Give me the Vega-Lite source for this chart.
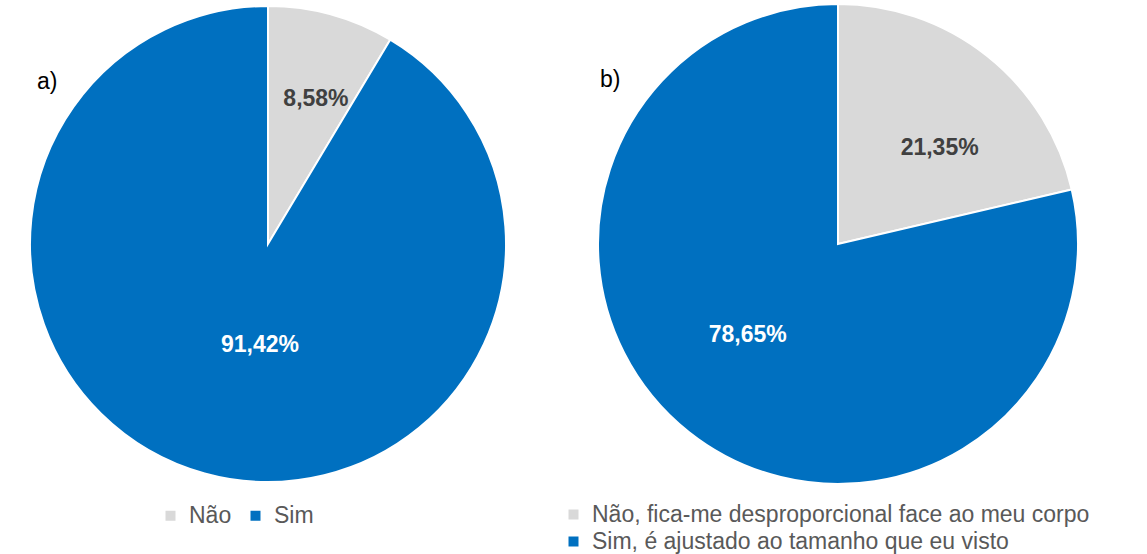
{
  "$schema": "https://vega.github.io/schema/vega-lite/v6.json",
  "padding": 0,
  "background": "white",
  "bounds": "flush",
  "spacing": 34,
  "config": {
    "view": {"stroke": null},
    "font": "Liberation Sans",
    "legend": {
      "orient": "none",
      "symbolType": "square",
      "symbolSize": 100,
      "symbolStrokeWidth": 0,
      "labelFont": "Liberation Sans",
      "labelFontSize": 23,
      "labelColor": "#595959",
      "labelOffset": 7,
      "labelLimit": 700,
      "padding": 0,
      "title": null
    },
    "title": {"font": "Liberation Sans", "fontSize": 23, "fontWeight": "normal", "color": "#000000", "anchor": "start", "frame": "group"}
  },
  "data": {
    "values": [
      {"panel": "a", "cat": "Não", "value": 8.58, "label": "8,58%"},
      {"panel": "a", "cat": "Sim", "value": 91.42, "label": "91,42%"},
      {"panel": "b", "cat": "Não, fica-me desproporcional face ao meu corpo", "value": 21.35, "label": "21,35%"},
      {"panel": "b", "cat": "Sim, é ajustado ao tamanho que eu visto", "value": 78.65, "label": "78,65%"}
    ]
  },
  "hconcat": [
    {
      "width": 536,
      "height": 482,
      "title": {"text": "a)", "offset": -92, "dx": 37},
      "transform": [{"filter": "datum.panel === 'a'"}],
      "encoding": {
        "theta": {"field": "value", "type": "quantitative", "stack": true},
        "order": {"field": "value", "sort": "ascending"}
      },
      "layer": [
        {
          "mark": {"type": "arc", "radius": 238, "stroke": "white", "strokeWidth": 2},
          "encoding": {
            "color": {
              "field": "cat", "type": "nominal",
              "scale": {"domain": ["Não", "Sim"], "range": ["#D9D9D9", "#0070C0"]},
              "legend": {"direction": "horizontal", "legendX": 159, "legendY": 501, "columnPadding": 12}
            }
          }
        },
        {
          "mark": {"type": "text", "radius": 150, "dx": 8, "fontSize": 23, "fontWeight": "bold", "baseline": "middle", "color": "#404040"},
          "encoding": {"text": {"condition": {"test": "datum.cat === 'Não'", "field": "label"}, "value": ""}}
        },
        {
          "mark": {"type": "text", "radius": 105, "dx": 20, "fontSize": 23, "fontWeight": "bold", "baseline": "middle", "color": "#FFFFFF"},
          "encoding": {"text": {"condition": {"test": "datum.cat === 'Sim'", "field": "label"}, "value": ""}}
        }
      ]
    },
    {
      "width": 536,
      "height": 482,
      "title": {"text": "b)", "offset": -92, "dx": 30},
      "transform": [{"filter": "datum.panel === 'b'"}],
      "encoding": {
        "theta": {"field": "value", "type": "quantitative", "stack": true},
        "order": {"field": "value", "sort": "ascending"}
      },
      "layer": [
        {
          "mark": {"type": "arc", "radius": 240, "stroke": "white", "strokeWidth": 2},
          "encoding": {
            "color": {
              "field": "cat", "type": "nominal",
              "scale": {"domain": ["Não, fica-me desproporcional face ao meu corpo", "Sim, é ajustado ao tamanho que eu visto"], "range": ["#D9D9D9", "#0070C0"]},
              "legend": {"direction": "vertical", "legendX": -8, "legendY": 500, "rowPadding": 3}
            }
          }
        },
        {
          "mark": {"type": "text", "radius": 141, "dx": 14, "dy": 14, "fontSize": 23, "fontWeight": "bold", "baseline": "middle", "color": "#404040"},
          "encoding": {"text": {"condition": {"test": "indexof(datum.cat, 'Não') === 0", "field": "label"}, "value": ""}}
        },
        {
          "mark": {"type": "text", "radius": 126, "dx": -12, "dy": -8, "fontSize": 23, "fontWeight": "bold", "baseline": "middle", "color": "#FFFFFF"},
          "encoding": {"text": {"condition": {"test": "indexof(datum.cat, 'Sim') === 0", "field": "label"}, "value": ""}}
        }
      ]
    }
  ],
  "resolve": {"scale": {"color": "independent"}, "legend": {"color": "independent"}}
}
